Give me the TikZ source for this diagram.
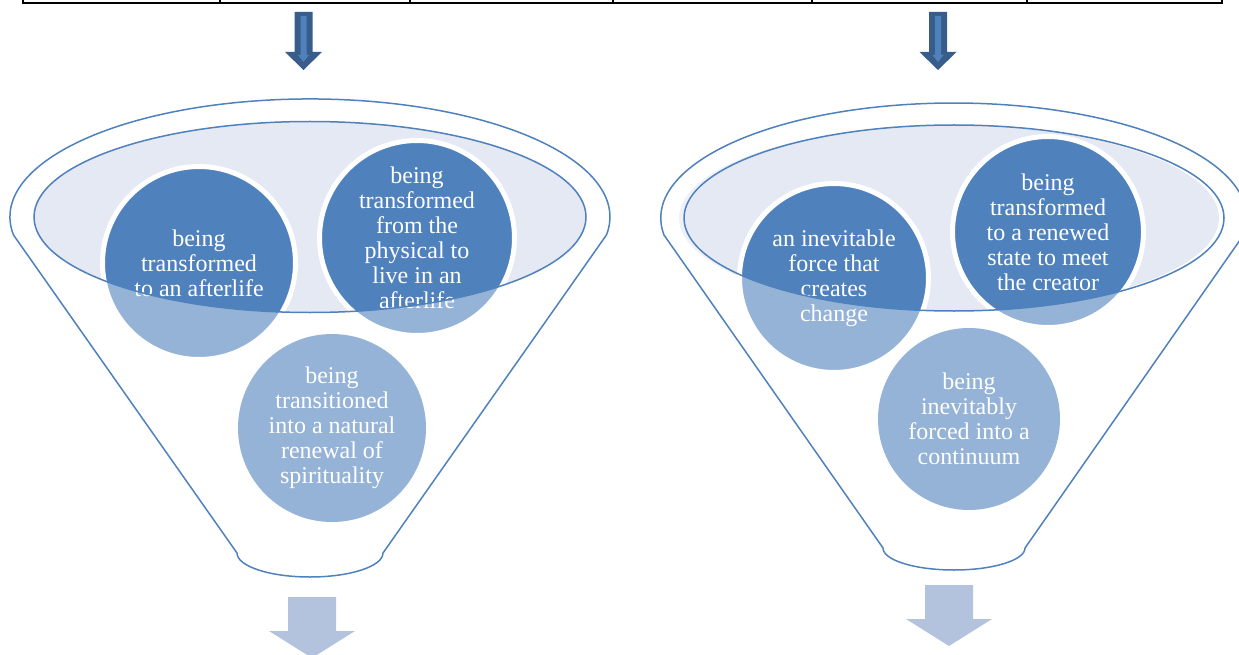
\documentclass[tikz,border=0pt]{standalone}
\usepackage{fontspec}
\setmainfont{Liberation Serif}
\definecolor{accent}{HTML}{4F81BD}
\definecolor{accentdark}{HTML}{385D8A}
\definecolor{accentlight}{HTML}{95B3D7}
\definecolor{rimfill}{HTML}{E4E9F3}
\definecolor{outarrow}{HTML}{B3C3DE}
\tikzset{
  rim/.style={draw=accent, line width=1.5pt},
  bubble/.style={circle, fill=accent, draw=white, line width=5pt, text=white,
    align=center, inner sep=0pt, font=\fontsize{24}{25}\selectfont},
  softbubble/.style={bubble, fill=accentlight, draw=none},
}
\begin{document}
\begin{tikzpicture}[x=1pt, y=1pt, yscale=-1]
      \useasboundingbox (0,0) rectangle (1239,655);
      % bottom edge of the table above
      \draw[line width=2pt] (22,3) -- (1223,3);
      \foreach \x in {23,220,410,613,812,1027,1222}
        \draw[line width=2pt] (\x,-3) -- (\x,3);
      % inflow arrows
      \foreach \x in {303.5,938}
        {
          \fill[accentdark] (\x-9,12) -- (\x+9,12) -- (\x+9,52) -- (\x+18.5,52) -- (\x,70) -- (\x-18.5,52) -- (\x-9,52) -- cycle;
          \fill[accent] (\x-3,16) -- (\x+3,16) -- (\x+3,55) -- (\x+5.5,55) -- (\x,62) -- (\x-5.5,55) -- (\x-3,55) -- cycle;
        }
      % left funnel
      \fill[rimfill] (310,217) ellipse [x radius=276, y radius=95.5];
      \node[bubble, minimum size=193pt] (afterlife) at (199,263) {being\\transformed\\to an afterlife};
      \node[bubble, minimum size=195pt] (physical) at (417,238) {being\\transformed\\from the\\physical to\\live in an\\afterlife};
      \fill[white, opacity=0.4, even odd rule] (20,110) rectangle (600,380) (310,217) ellipse [x radius=276, y radius=95.5];
      \draw[rim] (310,217) ellipse [x radius=276, y radius=95.5];
      \draw[rim] (13.5,235) arc[start angle=171.2, end angle=368.8, x radius=300, y radius=118] -- (383,553)
        arc[start angle=0, end angle=180, x radius=73, y radius=24] -- cycle;
      \node[softbubble, minimum size=188pt] (renewal) at (332,428) {being\\transitioned\\into a natural\\renewal of\\spirituality};
      % right funnel
      \fill[rimfill] (949,218) ellipse [x radius=270, y radius=93];
      \node[bubble, minimum size=189pt] (force) at (834,278) {an inevitable\\force that\\creates\\change};
      \node[bubble, minimum size=191pt] (creator) at (1048,232) {being\\transformed\\to a renewed\\state to meet\\the creator};
      \fill[white, opacity=0.4, even odd rule] (670,110) rectangle (1239,380) (954,218) ellipse [x radius=270, y radius=93];
      \draw[rim] (954,218) ellipse [x radius=270, y radius=93];
      \draw[rim] (664,235) arc[start angle=171.5, end angle=368.5, x radius=293, y radius=115] -- (1025,548)
        arc[start angle=0, end angle=180, x radius=71, y radius=22] -- cycle;
      \node[softbubble, minimum size=182pt] (continuum) at (969,419) {being\\inevitably\\forced into a\\continuum};
      % outflow arrows
      \foreach \x/\y in {312/597, 949/585}
        \fill[outarrow] (\x-24,\y) -- (\x+24,\y) -- (\x+24,\y+34) -- (\x+43,\y+34) -- (\x,\y+61) -- (\x-43,\y+34) -- (\x-24,\y+34) -- cycle;
    \end{tikzpicture}
\end{document}
